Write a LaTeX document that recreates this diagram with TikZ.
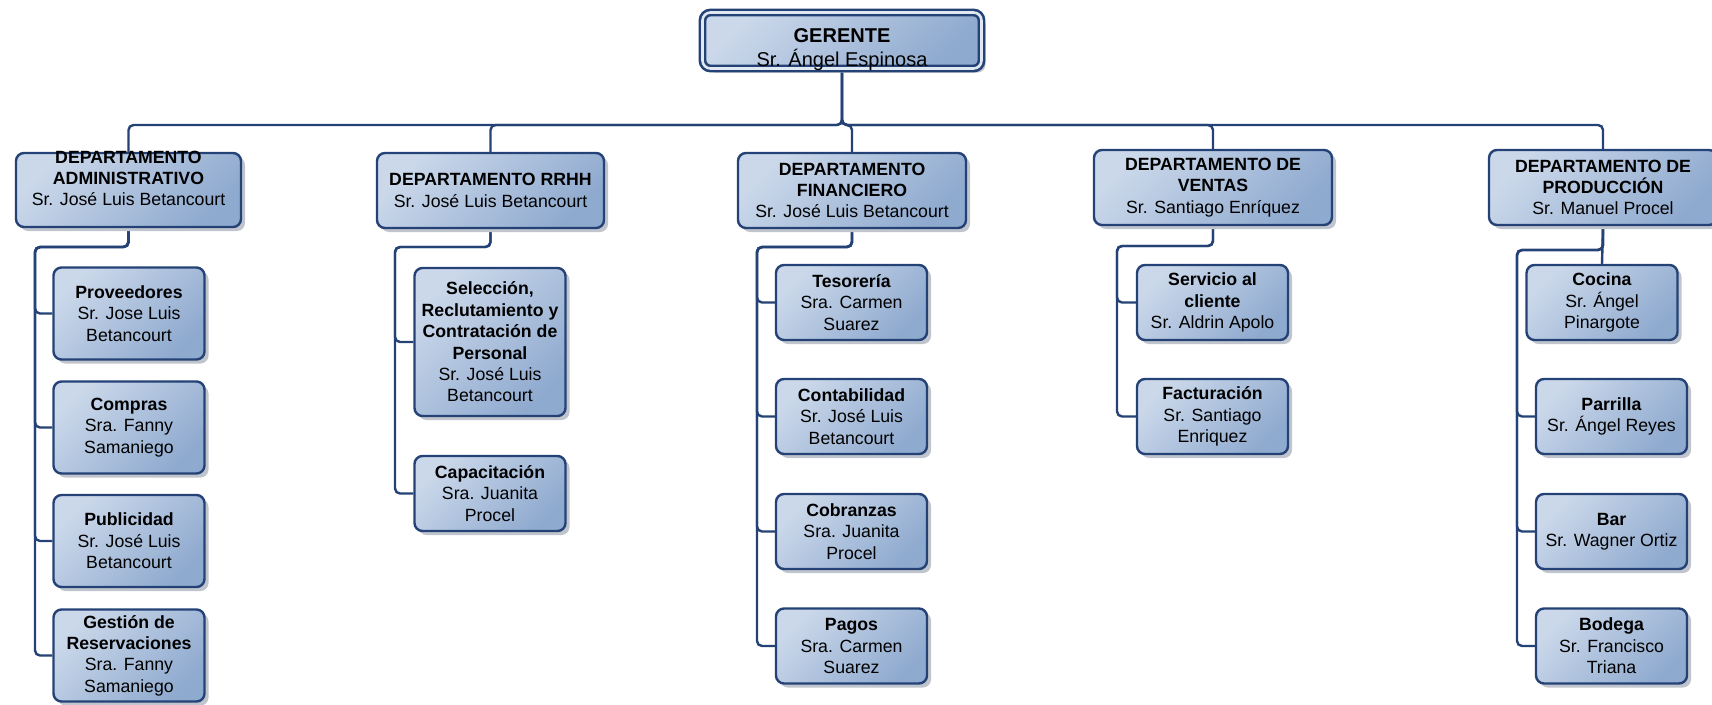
\documentclass[tikz,border=0pt]{standalone}
\usepackage{fontspec}
\setmainfont{Liberation Sans}
\usetikzlibrary{shadows,backgrounds}
\definecolor{bordc}{RGB}{36,66,118}
\definecolor{fillA}{RGB}{203,216,234}
\definecolor{fillB}{RGB}{143,170,207}
\definecolor{shad}{RGB}{192,196,204}
\tikzset{
  box/.style={draw=bordc, line width=2.4pt, rounded corners=8pt,
    top color=fillA, bottom color=fillB, shading angle=45,
    drop shadow={shadow xshift=4pt, shadow yshift=-4pt, fill=shad, opacity=1},
    inner sep=0pt, align=center, text=black,
    font=\fontsize{17.7}{21.4}\selectfont},
  gbox/.style={box, double=fillA!60!white, line width=2.6pt, double distance=2.6pt},
  dbox/.style={box, minimum height=75pt},
  kbox/.style={box, minimum width=151pt, minimum height=75pt},
  txt/.style={inner sep=0pt, align=center, text=black,
    font=\fontsize{17.7}{21.4}\selectfont},
  conn/.style={draw=bordc, line width=2.4pt, rounded corners=5pt},
}
\begin{document}
\begin{tikzpicture}[x=1pt,y=-1pt]
\useasboundingbox (0,0) rectangle (1712,704);
\clip (0,0) rectangle (1712,704);
\coordinate (topbus) at (0,125);
\coordinate (admbus) at (35,247);
\coordinate (rrhbus) at (395,247);
\coordinate (finbus) at (757,247);
\coordinate (venbus) at (1117,246);
\coordinate (probus) at (1517,250);

% top
\node[gbox, minimum width=279pt, minimum height=56pt] (ger) at (842,40.5) {};
\node[txt, font=\fontsize{20}{24}\selectfont] (gert) at ([yshift=-9.5pt]ger.center) {\textbf{GERENTE}\\Sr. Ángel Espinosa};

% departments
\node[dbox, minimum width=225pt, minimum height=74pt] (adm) at (128.5,190) {};
\node[txt] (admt) at ([yshift=11.5pt]adm.center) {\textbf{DEPARTAMENTO}\\\textbf{ADMINISTRATIVO}\\Sr. José Luis Betancourt};
\node[dbox, minimum width=227pt] (rrh) at (490.5,190.5) {\textbf{DEPARTAMENTO RRHH}\\Sr. José Luis Betancourt};
\node[dbox, minimum width=228pt] (fin) at (852,190.5) {\textbf{DEPARTAMENTO}\\\textbf{FINANCIERO}\\Sr. José Luis Betancourt};
\node[dbox, minimum width=238pt] (ven) at (1213,187.5) {\textbf{DEPARTAMENTO DE}\\\textbf{VENTAS}\\Sr. Santiago Enríquez};
\node[dbox, minimum width=228pt] (pro) at (1603,187.5) {\textbf{DEPARTAMENTO DE}\\\textbf{PRODUCCIÓN}\\Sr. Manuel Procel};

% administrativo
\node[kbox, minimum height=92pt] (prov) at (129,313.5) {\textbf{Proveedores}\\Sr. Jose Luis\\Betancourt};
\node[kbox, minimum height=92pt] (comp) at (129,427.5) {\textbf{Compras}\\Sra. Fanny\\Samaniego};
\node[kbox, minimum height=92pt] (publ) at (129,541) {\textbf{Publicidad}\\Sr. José Luis\\Betancourt};
\node[kbox, minimum height=92pt] (gest) at (129,655.5) {\textbf{Gestión de}\\\textbf{Reservaciones}\\Sra. Fanny\\Samaniego};

% rrhh
\node[kbox, minimum height=148pt] (sel) at (490,342) {\textbf{Selección,}\\\textbf{Reclutamiento y}\\\textbf{Contratación de}\\\textbf{Personal}\\Sr. José Luis\\Betancourt};
\node[kbox] (cap) at (490,493.5) {\textbf{Capacitación}\\Sra. Juanita\\Procel};

% financiero
\node[kbox] (tes) at (851.5,302.5) {\textbf{Tesorería}\\Sra. Carmen\\Suarez};
\node[kbox] (cont) at (851.5,416.5) {\textbf{Contabilidad}\\Sr. José Luis\\Betancourt};
\node[kbox] (cob) at (851.5,531.5) {\textbf{Cobranzas}\\Sra. Juanita\\Procel};
\node[kbox] (pag) at (851.5,646) {\textbf{Pagos}\\Sra. Carmen\\Suarez};

% ventas
\node[kbox] (serv) at (1212.5,302.5) {\textbf{Servicio al}\\\textbf{cliente}\\Sr. Aldrin Apolo};
\node[kbox] (fact) at (1212.5,416.5) {\textbf{Facturación}\\Sr. Santiago\\Enriquez};

% produccion
\node[kbox] (coc) at (1602,302.5) {\textbf{Cocina}\\Sr. Ángel\\Pinargote};
\node[kbox] (parr) at (1611.5,416.5) {\textbf{Parrilla}\\Sr. Ángel Reyes};
\node[kbox] (bar) at (1611.5,531.5) {\textbf{Bar}\\Sr. Wagner Ortiz};
\node[kbox] (bod) at (1611.5,646) {\textbf{Bodega}\\Sr. Francisco\\Triana};

\begin{scope}[on background layer]
\foreach \d in {adm,rrh,fin,ven,pro}
  \draw[conn] (ger.south) -- (ger.south |- topbus) -| (\d.north);
\foreach \k in {prov,comp,publ,gest}
  \draw[conn] (adm.south) |- (admbus) |- (\k.west);
\foreach \k in {sel,cap}
  \draw[conn] (rrh.south) |- (rrhbus) |- (\k.west);
\foreach \k in {tes,cont,cob,pag}
  \draw[conn] (fin.south) |- (finbus) |- (\k.west);
\foreach \k in {serv,fact}
  \draw[conn] (ven.south) |- (venbus) |- (\k.west);
\draw[conn] (pro.south) -- (coc.north);
\foreach \k in {parr,bar,bod}
  \draw[conn] (pro.south) |- (probus) |- (\k.west);
\end{scope}
\end{tikzpicture}
\end{document}
